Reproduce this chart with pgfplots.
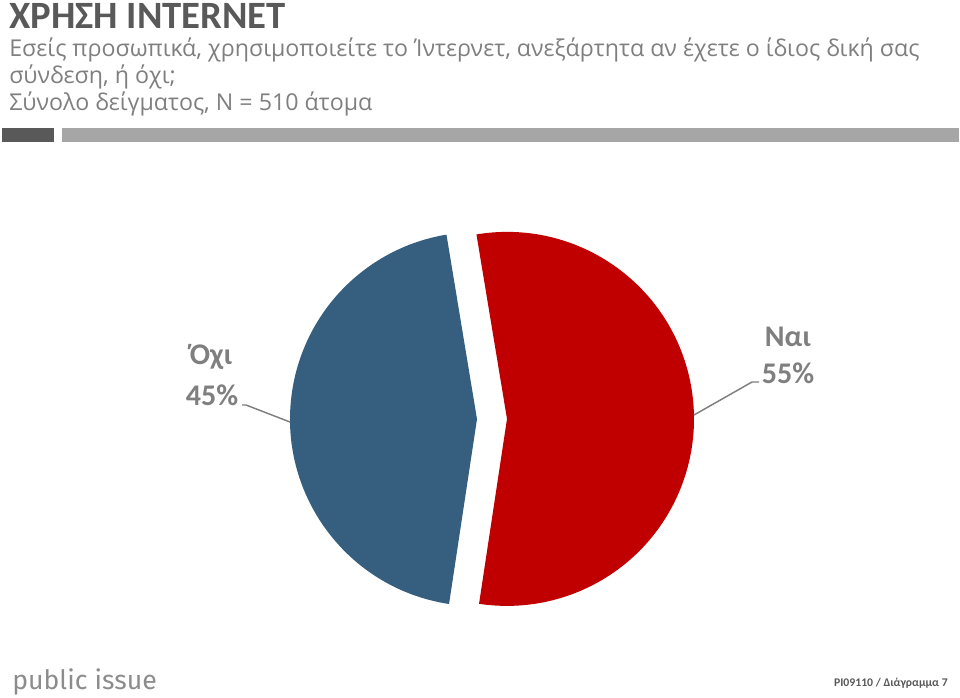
\documentclass[border=0pt]{standalone}
\usepackage{pgfplots}
\usepackage{pgfplotstable}
\pgfplotsset{compat=1.18}
\usepackage{fontspec}
\setmainfont{Carlito}
\newfontfamily\subfont{Open Sans}
\newfontfamily\logofont{Fira Sans}
\definecolor{pieRed}{HTML}{C00000}
\definecolor{pieBlue}{HTML}{365F7F}
\definecolor{titleGray}{HTML}{595959}
\definecolor{subGray}{HTML}{7F7F7F}
\definecolor{labGray}{HTML}{7F7F7F}
\definecolor{barDark}{HTML}{595959}
\definecolor{barLight}{HTML}{A6A6A6}
\definecolor{logoGray}{HTML}{8C8C8C}

\pgfplotstableread{
label value
Nai 55
Oxi 45
}\pietable

\begin{document}
\begin{tikzpicture}
\pgfplotstablegetelem{0}{value}\of\pietable
\pgfmathsetmacro\vNai{\pgfplotsretval}
\pgfmathsetmacro\rot{9.4}
\pgfmathsetmacro\aS{90+\rot}
\pgfmathsetmacro\aM{\aS-3.6*\vNai}
\pgfmathsetmacro\aE{\aS-360}
\pgfmathsetmacro\bisR{(\aS+\aM)/2}
\pgfmathsetmacro\bisB{(\aM+\aE)/2}
\begin{axis}[at={(0,0)}, anchor=south west,
  width=720pt, height=522.75pt, scale only axis,
  xmin=0, xmax=960, ymin=0, ymax=697, y dir=reverse,
  hide axis, clip=false]
% pie slices (exploded)
\fill[pieRed] (axis cs:492,419) ++(\bisR:11.25pt) -- ++(\aS:140.25pt)
  arc[start angle=\aS, end angle=\aM, radius=140.25pt] -- cycle;
\fill[pieBlue] (axis cs:492,419) ++(\bisB:11.25pt) -- ++(\aM:140.25pt)
  arc[start angle=\aM, end angle=\aE, radius=140.25pt] -- cycle;
% header
\node[anchor=base west, inner sep=0pt, text=titleGray, font=\fontsize{29}{32}\selectfont\bfseries] at (axis cs:9,28.5) {ΧΡΗΣΗ INTERNET};
\node[anchor=base west, inner sep=0pt, text=subGray, font=\subfont\fontsize{17.4}{20}\selectfont] at (axis cs:9,56) {Εσείς προσωπικά, χρησιμοποιείτε το Ίντερνετ, ανεξάρτητα αν έχετε ο ίδιος δική σας};
\node[anchor=base west, inner sep=0pt, text=subGray, font=\subfont\fontsize{17.4}{20}\selectfont] at (axis cs:9,83) {σύνδεση, ή όχι;};
\node[anchor=base west, inner sep=0pt, text=subGray, font=\subfont\fontsize{17.4}{20}\selectfont] at (axis cs:9,110) {Σύνολο δείγματος, N = 510 άτομα};
\fill[barDark] (axis cs:2,128) rectangle (axis cs:54,142);
\fill[barLight] (axis cs:62,128) rectangle (axis cs:959,142);
% labels
\node[anchor=center, inner sep=0pt, text=labGray, font=\fontsize{22.5}{26}\selectfont\bfseries] at (axis cs:211,357) {Όχι};
\node[anchor=center, inner sep=0pt, text=labGray, font=\fontsize{22.5}{26}\selectfont\bfseries] at (axis cs:212,395) {45\%};
\node[anchor=center, inner sep=0pt, text=labGray, font=\fontsize{22.5}{26}\selectfont\bfseries] at (axis cs:788,337) {Ναι};
\node[anchor=center, inner sep=0pt, text=labGray, font=\fontsize{22.5}{26}\selectfont\bfseries] at (axis cs:788,373) {55\%};
\draw[labGray, line width=1.1pt] (axis cs:242,405) -- (axis cs:246,405) -- (axis cs:290,422);
\draw[labGray, line width=1.1pt] (axis cs:759,382) -- (axis cs:752,382) -- (axis cs:694,415);
% footer
\node[anchor=base west, inner sep=0pt, text=logoGray, font=\logofont\fontsize{20}{22}\selectfont] at (axis cs:12,689) {public issue};
\node[anchor=base east, inner sep=0pt, text=titleGray, font=\fontsize{8.8}{10}\selectfont\bfseries] at (axis cs:948,686) {PI09110 / Διάγραμμα 7};
\end{axis}
\pgfresetboundingbox
\path[use as bounding box] (0,0) rectangle (720pt,522.75pt);
\end{tikzpicture}
\end{document}
